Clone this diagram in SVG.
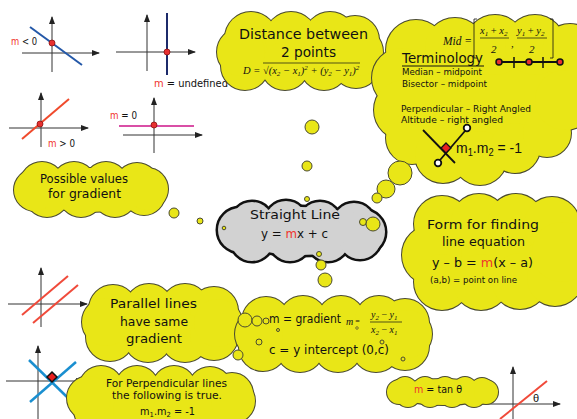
<svg xmlns="http://www.w3.org/2000/svg" width="577" height="419" viewBox="0 0 577 419">
<style>
.ol{fill:#e9e617;stroke:#4a4a30;stroke-width:2}
.fl{fill:#e9e617;stroke:none}
.gol{fill:#d2d2d2;stroke:#111;stroke-width:5}
.gfl{fill:#d2d2d2;stroke:none}
.bub{fill:#e9e617;stroke:#4a4a30;stroke-width:1}
text{font-family:"DejaVu Sans","Noto Sans",sans-serif;fill:#111}
.mth{font-family:"Liberation Serif","Times New Roman",serif;font-style:italic}
.ar{font-family:"Liberation Sans",Arial,sans-serif}
.r{fill:#f0342c}
.ax{stroke:#333;stroke-width:1;fill:none}
.dot{fill:#e83030;stroke:#8a1010;stroke-width:0.8}
.blk{stroke:#111;stroke-width:1.8;fill:none}
</style>
<defs>
<marker id="ah" viewBox="0 0 8 6" refX="7" refY="3" markerWidth="8" markerHeight="6" markerUnits="userSpaceOnUse" orient="auto"><path d="M0,0 L8,3 L0,6 z" fill="#222"/></marker>
<g id="s-dist">
<ellipse cx="300" cy="52" rx="65" ry="28"/>
<circle cx="251" cy="38" r="26"/><circle cx="291" cy="38" r="26"/><circle cx="330" cy="38" r="26"/><circle cx="355" cy="40" r="24"/>
<circle cx="245" cy="66" r="24"/><circle cx="285" cy="66" r="24"/><circle cx="324" cy="66" r="24"/><circle cx="356" cy="64" r="24"/>
<circle cx="241" cy="52" r="24"/><circle cx="359" cy="52" r="24"/>
</g>
<g id="s-term">
<ellipse cx="480" cy="100" rx="85" ry="55"/>
<circle cx="416" cy="50" r="30"/><circle cx="455" cy="48" r="30"/><circle cx="495" cy="45" r="30"/><circle cx="535" cy="45" r="30"/><circle cx="570" cy="52" r="28"/>
<circle cx="402" cy="78" r="30"/><circle cx="404" cy="110" r="30"/><circle cx="412" cy="138" r="26"/>
<circle cx="443" cy="155" r="28"/><circle cx="480" cy="158" r="27"/><circle cx="515" cy="148" r="25"/><circle cx="547" cy="133" r="24"/>
<circle cx="565" cy="100" r="30"/>
</g>
<g id="s-poss">
<ellipse cx="90" cy="190" rx="60" ry="22"/>
<circle cx="42" cy="184" r="22"/><circle cx="74" cy="184" r="22"/><circle cx="106" cy="184" r="22"/><circle cx="137" cy="185" r="22"/>
<circle cx="47" cy="195" r="22"/><circle cx="81" cy="195" r="22"/><circle cx="115" cy="195" r="22"/><circle cx="144" cy="194" r="21"/>
<circle cx="35" cy="190" r="21"/><circle cx="147" cy="189" r="21"/>
</g>
<g id="s-str">
<ellipse cx="301" cy="231" rx="70" ry="24"/>
<circle cx="252" cy="223" r="21"/><circle cx="286" cy="222" r="21"/><circle cx="320" cy="223" r="21"/><circle cx="354" cy="224" r="21"/>
<circle cx="252" cy="240" r="21"/><circle cx="290" cy="240" r="21"/><circle cx="328" cy="240" r="21"/><circle cx="360" cy="238" r="21"/>
<circle cx="240" cy="230" r="22"/><circle cx="363" cy="232" r="22"/>
</g>
<g id="s-form">
<ellipse cx="490" cy="252" rx="75" ry="45"/>
<circle cx="442" cy="224" r="28"/><circle cx="479" cy="222" r="28"/><circle cx="516" cy="222" r="28"/><circle cx="552" cy="225" r="28"/>
<circle cx="432" cy="255" r="30"/>
<circle cx="442" cy="282" r="28"/><circle cx="481" cy="282" r="28"/><circle cx="520" cy="281" r="28"/><circle cx="555" cy="278" r="28"/>
<circle cx="562" cy="252" r="30"/>
</g>
<g id="s-par">
<ellipse cx="162" cy="323" rx="65" ry="28"/>
<circle cx="113" cy="309" r="24"/><circle cx="149" cy="308" r="24"/><circle cx="185" cy="308" r="24"/><circle cx="214" cy="311" r="24"/>
<circle cx="110" cy="337" r="24"/><circle cx="148" cy="338" r="24"/><circle cx="185" cy="338" r="24"/><circle cx="214" cy="336" r="24"/>
<circle cx="106" cy="322" r="24"/><circle cx="218" cy="323" r="24"/>
</g>
<g id="s-mg">
<ellipse cx="333" cy="334" rx="85" ry="28"/>
<circle cx="266" cy="321" r="24"/><circle cx="303" cy="320" r="24"/><circle cx="341" cy="320" r="24"/><circle cx="379" cy="320" r="24"/><circle cx="405" cy="323" r="24"/>
<circle cx="263" cy="347" r="24"/><circle cx="300" cy="348" r="24"/><circle cx="338" cy="348" r="24"/><circle cx="376" cy="348" r="24"/><circle cx="405" cy="346" r="24"/>
<circle cx="259" cy="334" r="24"/><circle cx="408" cy="334" r="24"/>
</g>
<g id="s-perp">
<ellipse cx="160" cy="399" rx="75" ry="22"/>
<circle cx="101" cy="388" r="22"/><circle cx="137" cy="388" r="22"/><circle cx="174" cy="388" r="22"/><circle cx="210" cy="389" r="22"/><circle cx="232" cy="394" r="21"/>
<circle cx="96" cy="410" r="22"/><circle cx="135" cy="411" r="22"/><circle cx="175" cy="411" r="22"/><circle cx="214" cy="410" r="22"/>
<circle cx="89" cy="398" r="22"/><circle cx="233" cy="401" r="22"/>
</g>
<g id="s-tan">
<ellipse cx="443" cy="392" rx="48" ry="13"/>
<circle cx="405" cy="389" r="12"/><circle cx="425" cy="389" r="12"/><circle cx="445" cy="389" r="12"/><circle cx="465" cy="389" r="12"/><circle cx="482" cy="390" r="12"/>
<circle cx="408" cy="395" r="12"/><circle cx="430" cy="395" r="12"/><circle cx="452" cy="395" r="12"/><circle cx="474" cy="395" r="12"/>
<circle cx="399" cy="392" r="12"/><circle cx="486" cy="392" r="12"/>
</g>
</defs>

<rect x="0" y="0" width="577" height="419" fill="#ffffff"/>

<g id="graph-neg">
<path class="ax" d="M52,72 V17" marker-end="url(#ah)"/>
<path class="ax" d="M22,53 H99" marker-end="url(#ah)"/>
<line x1="30" y1="27" x2="82" y2="65" stroke="#2458a8" stroke-width="2"/>
<circle class="dot" cx="52" cy="43" r="3"/>
<text x="11" y="45" font-size="10.5" textLength="26" lengthAdjust="spacingAndGlyphs"><tspan class="r">m</tspan> &lt; 0</text>
</g>
<g id="graph-undef">
<path class="ax" d="M147,71 V15" marker-end="url(#ah)"/>
<path class="ax" d="M116,52 H195" marker-end="url(#ah)"/>
<line x1="167" y1="13" x2="167" y2="75" stroke="#1c2a6a" stroke-width="2"/>
<circle class="dot" cx="167" cy="52" r="3"/>
<text x="154" y="87" font-size="10.5" textLength="74" lengthAdjust="spacingAndGlyphs"><tspan class="r">m</tspan> = undefined</text>
</g>
<g id="graph-pos">
<path class="ax" d="M41,147 V93" marker-end="url(#ah)"/>
<path class="ax" d="M9,128 H88" marker-end="url(#ah)"/>
<line x1="22" y1="139" x2="69" y2="99" stroke="#f04a2c" stroke-width="2"/>
<circle class="dot" cx="40" cy="124" r="3"/>
<text x="48" y="147" font-size="10.5" textLength="27" lengthAdjust="spacingAndGlyphs"><tspan class="r">m</tspan> &gt; 0</text>
</g>
<g id="graph-zero">
<path class="ax" d="M154,153 V98" marker-end="url(#ah)"/>
<path class="ax" d="M123,135 H202" marker-end="url(#ah)"/>
<line x1="119" y1="126" x2="194" y2="126" stroke="#d94fa6" stroke-width="2"/>
<circle class="dot" cx="154" cy="125" r="3"/>
<text x="110" y="119" font-size="10.5" textLength="27" lengthAdjust="spacingAndGlyphs"><tspan class="r">m</tspan> = 0</text>
</g>
<g id="graph-parallel">
<path class="ax" d="M41,327 V268" marker-end="url(#ah)"/>
<path class="ax" d="M8,304 H87" marker-end="url(#ah)"/>
<line x1="22" y1="315" x2="68" y2="276" stroke="#f04a3a" stroke-width="2"/>
<line x1="33" y1="323" x2="78" y2="285" stroke="#f04a3a" stroke-width="2"/>
</g>
<g id="graph-perp">
<path class="ax" d="M38,419 V346" marker-end="url(#ah)"/>
<path class="ax" d="M6,381 H83" marker-end="url(#ah)"/>
<line x1="29" y1="360" x2="67" y2="397" stroke="#1a8fd0" stroke-width="2.5"/>
<line x1="30" y1="402" x2="76" y2="362" stroke="#1a8fd0" stroke-width="2.5"/>
<path d="M52,372 L57,377 L52,382 L47,377 z" fill="#e82020" stroke="#111" stroke-width="1.5"/>
</g>
<g id="graph-theta">
<path class="ax" d="M513,419 V367" marker-end="url(#ah)"/>
<path class="ax" d="M482,404 H560" marker-end="url(#ah)"/>
<line x1="500" y1="419" x2="547" y2="381" stroke="#f04a3a" stroke-width="2"/>
<text x="533" y="402" font-size="11" class="ar">θ</text>
</g>

<g id="distance">
<use href="#s-dist" class="ol"/><use href="#s-dist" class="fl"/>
<text x="239" y="39" font-size="14" textLength="129" lengthAdjust="spacingAndGlyphs">Distance between</text>
<text x="281" y="57" font-size="14" textLength="55" lengthAdjust="spacingAndGlyphs">2 points</text>
<text class="mth" x="243" y="74" font-size="10.5">D = <tspan font-style="normal">√</tspan>(x<tspan font-size="7" dy="2">2</tspan><tspan dy="-2"> − x</tspan><tspan font-size="7" dy="2">1</tspan><tspan dy="-2">)</tspan><tspan font-size="7" dy="-4">2</tspan><tspan dy="4"> + (y</tspan><tspan font-size="7" dy="2">2</tspan><tspan dy="-2"> − y</tspan><tspan font-size="7" dy="2">1</tspan><tspan dy="-2">)</tspan><tspan font-size="7" dy="-4">2</tspan></text>
<line x1="263" y1="63" x2="360" y2="63" stroke="#111" stroke-width="0.7"/>
</g>

<g id="terminology">
<use href="#s-term" class="ol"/><use href="#s-term" class="fl"/>
<text class="mth" x="443" y="45" font-size="12" textLength="29" lengthAdjust="spacingAndGlyphs">Mid =</text>
<path d="M477,19 H474 V58 H477 M550,19 H553 V58 H550" stroke="#111" stroke-width="0.8" fill="none"/>
<text class="mth" x="480" y="34" font-size="10.5">x<tspan font-size="7" dy="2">1</tspan><tspan dy="-2" font-style="normal"> + </tspan>x<tspan font-size="7" dy="2">2</tspan></text>
<line x1="480" y1="38" x2="509" y2="38" stroke="#111" stroke-width="0.7"/>
<text x="491" y="53" font-size="11" class="mth" font-style="normal">2</text>
<text x="511" y="47" font-size="11" class="mth" font-style="normal">,</text>
<text class="mth" x="517" y="34" font-size="10.5">y<tspan font-size="7" dy="2">1</tspan><tspan dy="-2" font-style="normal"> + </tspan>y<tspan font-size="7" dy="2">2</tspan></text>
<line x1="517" y1="38" x2="547" y2="38" stroke="#111" stroke-width="0.7"/>
<text x="529" y="53" font-size="11" class="mth" font-style="normal">2</text>
<text x="402" y="63" font-size="14" textLength="81" lengthAdjust="spacingAndGlyphs">Terminology</text>
<line x1="402" y1="66" x2="484" y2="66" stroke="#111" stroke-width="1.2"/>
<line x1="499" y1="62" x2="560" y2="62" stroke="#111" stroke-width="1.8"/>
<line x1="514" y1="57" x2="514" y2="68" stroke="#111" stroke-width="1.5"/>
<line x1="543" y1="57" x2="543" y2="68" stroke="#111" stroke-width="1.5"/>
<circle cx="499" cy="62" r="3" fill="#e83030" stroke="#111" stroke-width="1.5"/>
<circle cx="529" cy="62" r="3" fill="#e83030" stroke="#111" stroke-width="1.5"/>
<circle cx="560" cy="62" r="3" fill="#e83030" stroke="#111" stroke-width="1.5"/>
<text x="402" y="75" font-size="9.5" textLength="80" lengthAdjust="spacingAndGlyphs">Median – midpoint</text>
<text x="402" y="87" font-size="9.5" textLength="85" lengthAdjust="spacingAndGlyphs">Bisector – midpoint</text>
<text x="401" y="112" font-size="9.5" textLength="130" lengthAdjust="spacingAndGlyphs">Perpendicular – Right Angled</text>
<text x="401" y="123" font-size="9.5" textLength="102" lengthAdjust="spacingAndGlyphs">Altitude – right angled</text>
<line class="blk" x1="423" y1="130" x2="455" y2="163"/>
<line class="blk" x1="440" y1="160" x2="465" y2="131"/>
<circle cx="438" cy="163" r="3.3" fill="#fff" stroke="#111" stroke-width="1.8"/>
<circle cx="467" cy="128" r="3.3" fill="#fff" stroke="#111" stroke-width="1.8"/>
<path d="M446,143 L451,148 L446,153 L441,148 z" fill="#e82020" stroke="#111" stroke-width="1.3"/>
<text class="ar" x="456" y="153" font-size="15" textLength="66" lengthAdjust="spacingAndGlyphs">m<tspan font-size="10" dy="3">1</tspan><tspan dy="-3">.m</tspan><tspan font-size="10" dy="3">2</tspan><tspan dy="-3"> = -1</tspan></text>
</g>

<g id="possible">
<use href="#s-poss" class="ol"/><use href="#s-poss" class="fl"/>
<text x="40" y="183" font-size="12" textLength="88" lengthAdjust="spacingAndGlyphs">Possible values</text>
<text x="48" y="198" font-size="12" textLength="73" lengthAdjust="spacingAndGlyphs">for gradient</text>
</g>

<g id="straight-line">
<use href="#s-str" class="gol"/><use href="#s-str" class="gfl"/>
<text x="250" y="219" font-size="13" textLength="90" lengthAdjust="spacingAndGlyphs">Straight Line</text>
<text x="261" y="238" font-size="13" textLength="67" lengthAdjust="spacingAndGlyphs">y = <tspan class="r">m</tspan>x + c</text>
</g>

<g id="form">
<use href="#s-form" class="ol"/><use href="#s-form" class="fl"/>
<text x="427" y="229" font-size="13" textLength="112" lengthAdjust="spacingAndGlyphs">Form for finding</text>
<text x="442" y="246" font-size="13" textLength="83" lengthAdjust="spacingAndGlyphs">line equation</text>
<text x="432" y="267" font-size="13" textLength="101" lengthAdjust="spacingAndGlyphs">y – b = <tspan class="r">m</tspan>(x – a)</text>
<text x="430" y="283" font-size="8" textLength="87" lengthAdjust="spacingAndGlyphs">(a,b) = point on line</text>
</g>

<g id="parallel">
<use href="#s-par" class="ol"/><use href="#s-par" class="fl"/>
<text x="110" y="308" font-size="13" textLength="87" lengthAdjust="spacingAndGlyphs">Parallel lines</text>
<text x="120" y="326" font-size="13" textLength="68" lengthAdjust="spacingAndGlyphs">have same</text>
<text x="126" y="343" font-size="13" textLength="56" lengthAdjust="spacingAndGlyphs">gradient</text>
</g>

<g id="gradient">
<use href="#s-mg" class="ol"/><use href="#s-mg" class="fl"/>
<text x="269" y="323" font-size="13" textLength="72" lengthAdjust="spacingAndGlyphs">m = gradient</text>
<text x="269" y="354" font-size="12.5" textLength="120" lengthAdjust="spacingAndGlyphs">c = y intercept (0,c)</text>
<text class="mth" x="346" y="325" font-size="10">m<tspan font-style="normal" font-size="8" dy="-1"> =</tspan></text>
<circle cx="357" cy="328" r="1.3" fill="none" stroke="#333" stroke-width="0.6"/>
<text class="mth" x="371" y="318" font-size="10">y<tspan font-size="7" dy="2">2</tspan><tspan dy="-2" font-style="normal"> − </tspan>y<tspan font-size="7" dy="2">1</tspan></text>
<line x1="370" y1="322" x2="402" y2="322" stroke="#111" stroke-width="0.7"/>
<text class="mth" x="371" y="333" font-size="10">x<tspan font-size="7" dy="2">2</tspan><tspan dy="-2" font-style="normal"> − </tspan>x<tspan font-size="7" dy="2">1</tspan></text>
</g>

<g id="perpendicular">
<use href="#s-perp" class="ol"/><use href="#s-perp" class="fl"/>
<text x="106" y="387" font-size="10" textLength="121" lengthAdjust="spacingAndGlyphs">For Perpendicular lines</text>
<text x="112" y="399" font-size="10" textLength="110" lengthAdjust="spacingAndGlyphs">the following is true.</text>
<text x="140" y="415" font-size="10" textLength="55" lengthAdjust="spacingAndGlyphs">m<tspan font-size="7" dy="2">1</tspan><tspan dy="-2">.m</tspan><tspan font-size="7" dy="2">2</tspan><tspan dy="-2"> = -1</tspan></text>
</g>

<g id="tan">
<use href="#s-tan" class="ol"/><use href="#s-tan" class="fl"/>
<text x="414" y="393" font-size="10" textLength="48" lengthAdjust="spacingAndGlyphs"><tspan class="r">m</tspan> = tan θ</text>
</g>

<g id="connectors">
<circle class="bub" cx="312" cy="127" r="7"/>
<circle class="bub" cx="307" cy="166" r="5"/>
<circle class="bub" cx="307" cy="199" r="2.5"/>
<circle class="bub" cx="174" cy="213" r="5"/>
<circle class="bub" cx="200" cy="221" r="3"/>
<circle class="bub" cx="224" cy="228" r="1.8"/>
<circle class="bub" cx="319" cy="254" r="2.5"/>
<circle class="bub" cx="321" cy="265" r="5"/>
<circle class="bub" cx="325" cy="280" r="7"/>
<circle class="bub" cx="400" cy="173" r="12"/>
<circle class="bub" cx="386" cy="189" r="9"/>
<circle class="bub" cx="377" cy="198" r="5"/>
<circle class="bub" cx="363" cy="222" r="3.5"/>
<circle class="bub" cx="373" cy="224" r="7"/>
<circle class="bub" cx="245" cy="320" r="7"/>
<circle class="bub" cx="257" cy="321" r="5"/>
<circle class="bub" cx="266" cy="321" r="3"/>
<circle class="bub" cx="278" cy="330" r="1.5"/>
<circle class="bub" cx="259" cy="342" r="3"/>
<circle class="bub" cx="382" cy="342" r="2"/>
<circle class="bub" cx="403" cy="359" r="2"/>
<circle class="bub" cx="238" cy="355" r="5"/>
</g>
</svg>
